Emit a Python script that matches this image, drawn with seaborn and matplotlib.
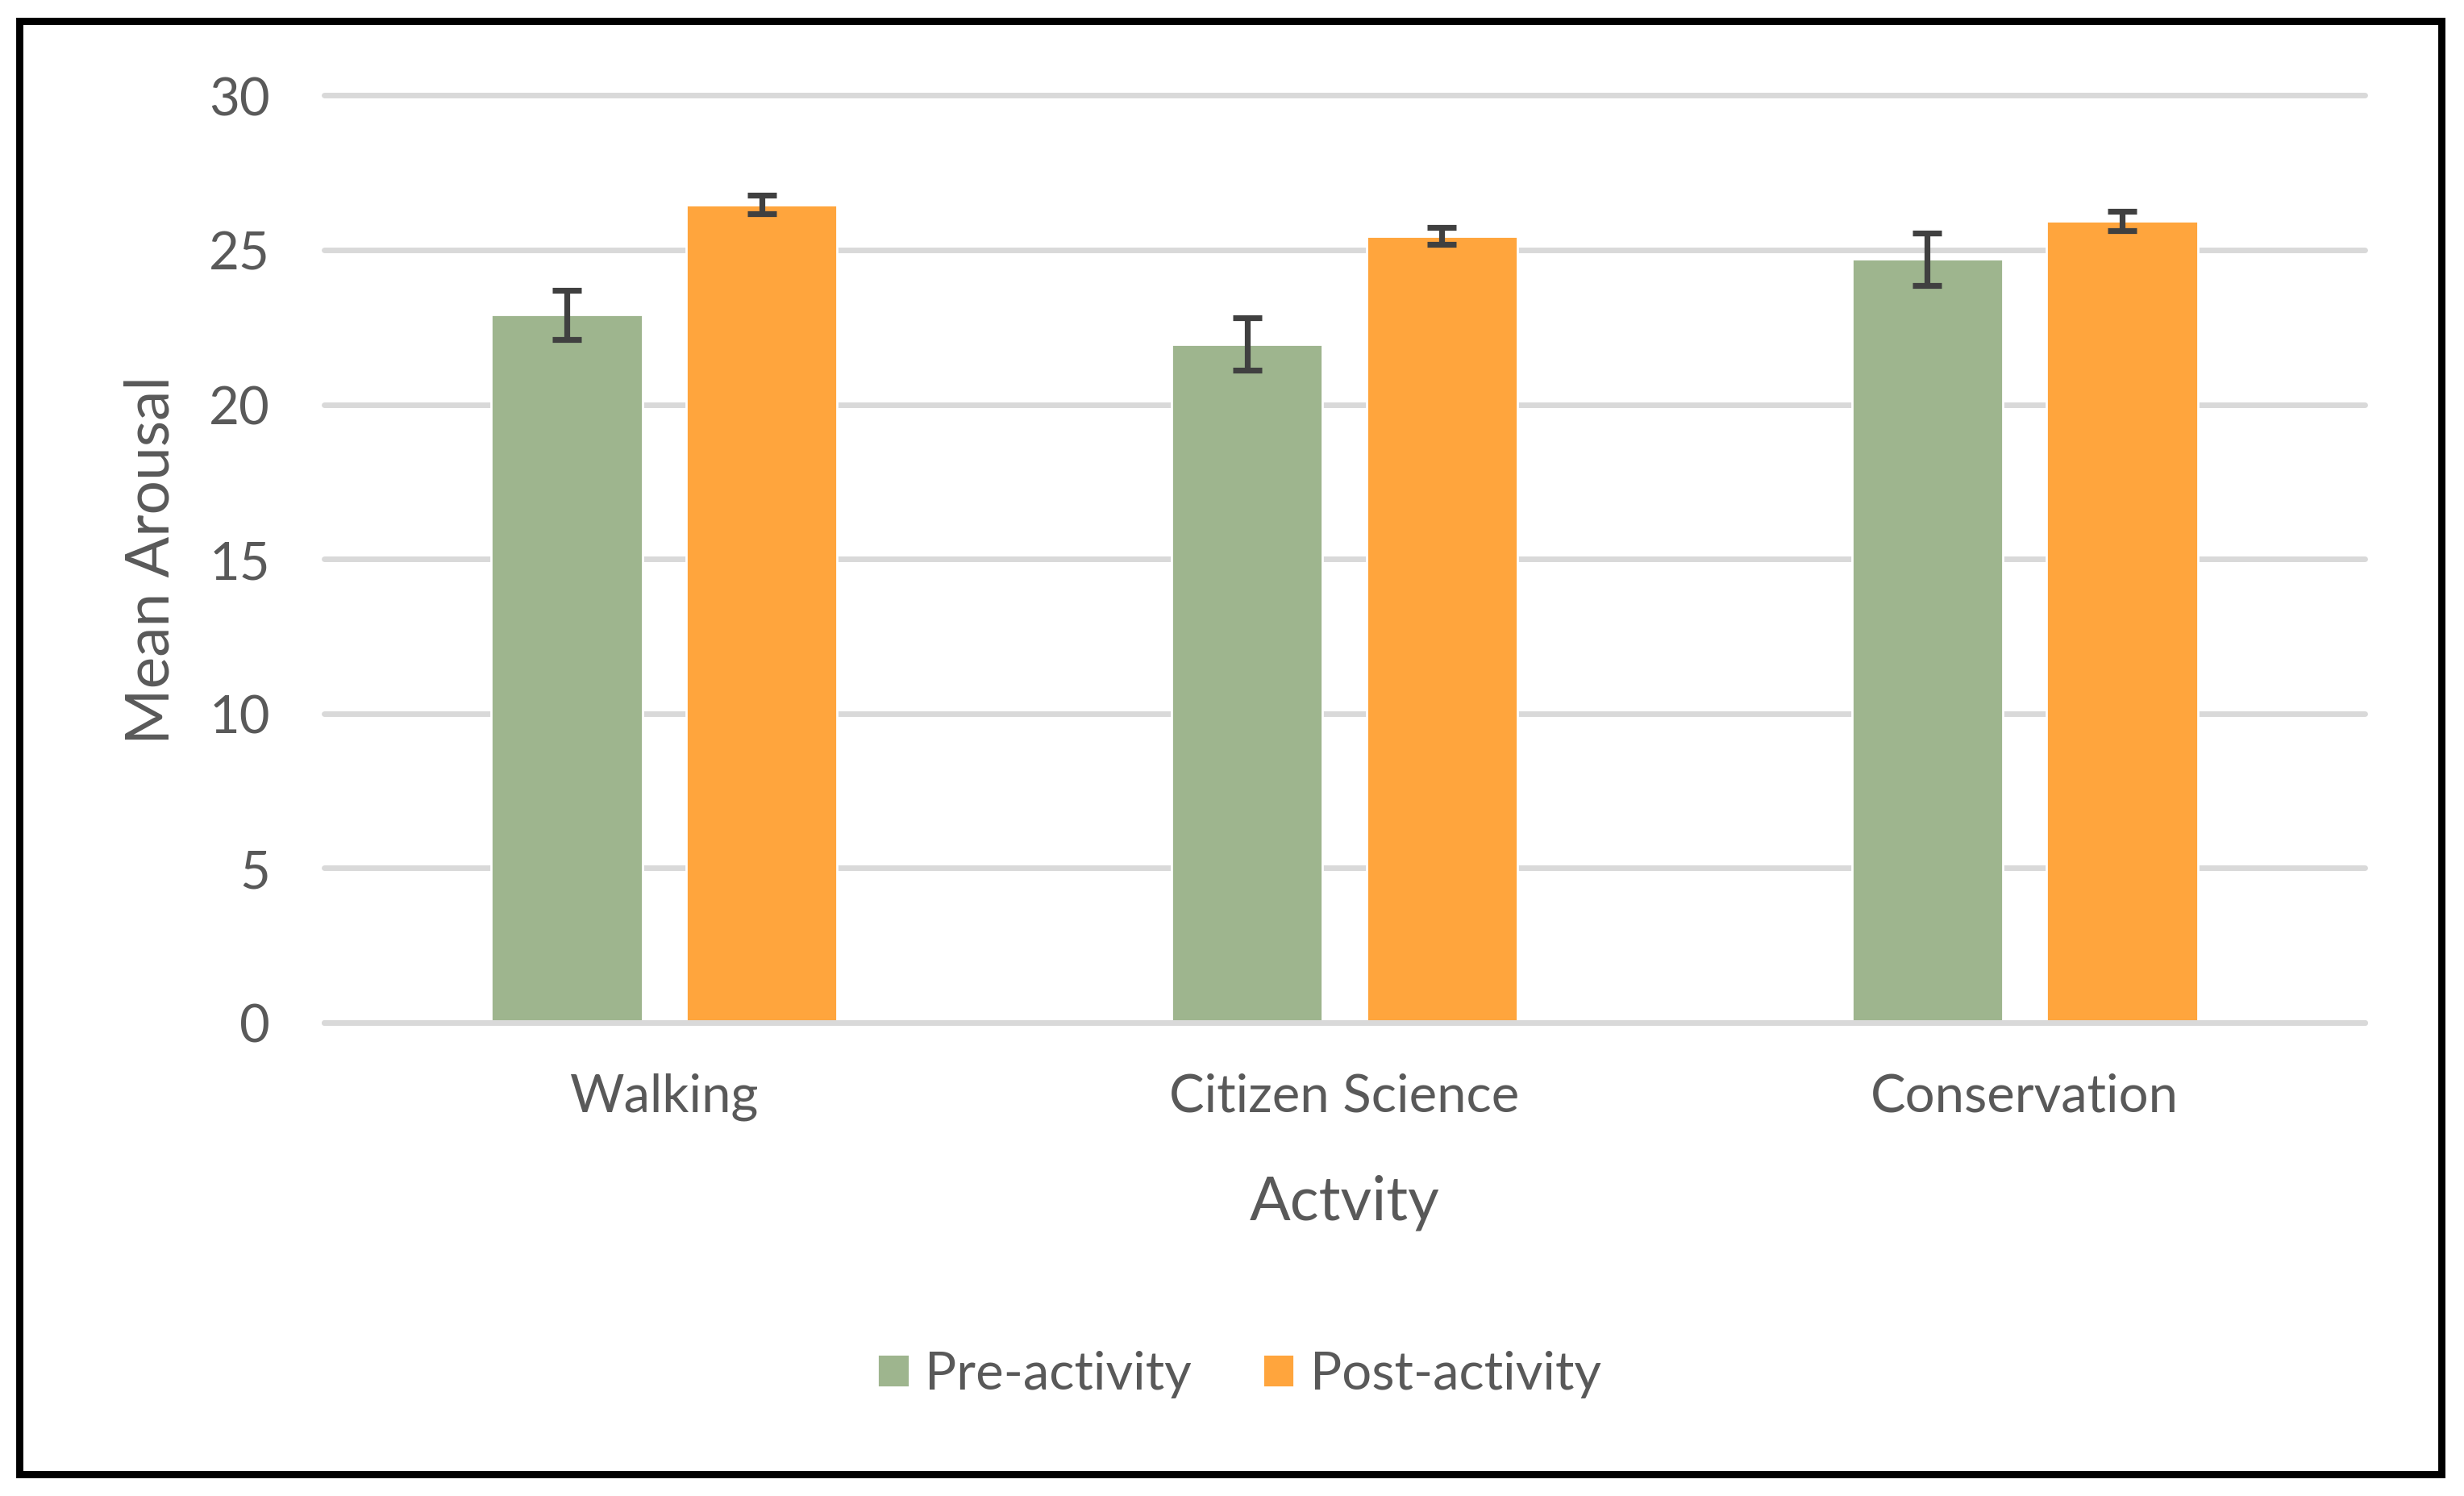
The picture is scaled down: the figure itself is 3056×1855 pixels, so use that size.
"""
Mean arousal before and after each activity (grouped bars with error bars).
"""

import matplotlib
matplotlib.use("Agg")
import matplotlib.pyplot as plt
from matplotlib.patches import Rectangle
import pandas as pd
import seaborn as sns

# ── data ────────────────────────────────────────────────────────────
ACTIVITIES = ["Walking", "Citizen Science", "Conservation"]
PHASES     = ["Pre-activity", "Post-activity"]
PRE_MEAN   = [22.9, 21.95, 24.7]
PRE_ERR    = [0.8, 0.85, 0.85]
POST_MEAN  = [26.47, 25.45, 25.94]
POST_ERR   = [0.3, 0.27, 0.32]
Y_TICKS    = [0, 5, 10, 15, 20, 25, 30]

GREEN  = "#9EB58E"
ORANGE = "#FFA53D"
TEXT   = "#595959"
GRID   = "#D9D9D9"

sns.set_style("white")
plt.rcParams["font.family"] = ["Lato", "DejaVu Sans"]

df = pd.DataFrame({
    "activity": ACTIVITIES * 2,
    "phase":    [PHASES[0]] * 3 + [PHASES[1]] * 3,
    "mean":     PRE_MEAN + POST_MEAN,
})
errors = [PRE_ERR, POST_ERR]

fig = plt.figure(figsize=(15.28, 9.28), dpi=200)
ax  = fig.add_axes([0.1315, 0.3163, 0.8283, 0.6194])

sns.barplot(
    data=df, x="activity", y="mean", hue="phase",
    hue_order=PHASES, order=ACTIVITIES,
    palette=[GREEN, ORANGE], width=0.573, gap=0.225,
    errorbar=None, saturation=1, ax=ax,
)

# error bars on top of each bar
for container, err in zip(ax.containers, errors):
    xs = [p.get_x() + p.get_width() / 2 for p in container.patches]
    ys = [p.get_height() for p in container.patches]
    ax.errorbar(xs, ys, yerr=err, fmt="none", ecolor="#404040",
                elinewidth=2.6, capsize=6.5, capthick=2.6, zorder=5)

handles, labels = ax.get_legend_handles_labels()
ax.get_legend().remove()

# axes styling
ax.set_ylim(0, 30)
ax.set_xlim(-0.5, 2.5)
ax.set_yticks(Y_TICKS)
ax.set_axisbelow(True)
ax.yaxis.grid(True, color=GRID, linewidth=2.5)
ax.xaxis.grid(False)
for line in ax.get_ygridlines():
    line.set_clip_on(False)
ax.axhline(0, color=GRID, linewidth=2.5, zorder=4, clip_on=False)
for spine in ax.spines.values():
    spine.set_visible(False)

ax.tick_params(axis="both", length=0, labelsize=23.5, labelcolor=TEXT)
ax.tick_params(axis="y", pad=24)
ax.tick_params(axis="x", pad=22)

ax.set_xlabel("Actvity", fontsize=27, color=TEXT, va="baseline")
ax.xaxis.set_label_coords(0.5, -0.212)
ax.set_ylabel("Mean Arousal", fontsize=27, color=TEXT)
ax.yaxis.set_label_coords(-0.071, 0.5)

fig.legend(
    handles, labels, loc="center", bbox_to_anchor=(0.503, 0.0814),
    ncol=2, frameon=False, fontsize=23.5, labelcolor=TEXT,
    handlelength=0.6, handleheight=0.6, handletextpad=0.3,
    columnspacing=1.35,
)

# black frame around the whole figure
fig.patches.append(Rectangle(
    (0.008, 0.0148), 0.9827, 0.9704, transform=fig.transFigure,
    fill=False, edgecolor="black", linewidth=3.2,
))

fig.savefig("out.png", dpi=200, facecolor="white")
plt.close(fig)
